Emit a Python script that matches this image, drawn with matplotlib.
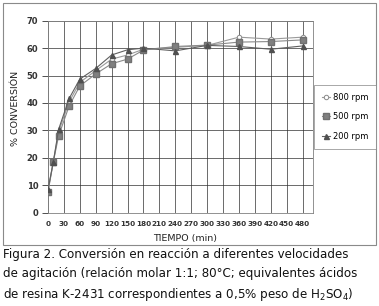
import matplotlib.pyplot as plt
from matplotlib.patches import Rectangle

# Data
tiempo = [0, 10, 20, 40, 60, 90, 120, 150, 180, 240, 300, 360, 420, 480]
rpm800 = [8.0, 18.5, 29.5, 40.5, 47.5, 51.8, 56.0, 57.5, 59.6, 60.3, 61.0, 64.0, 63.3, 64.0]
rpm500 = [7.5, 18.5, 28.0, 39.0, 46.2, 50.6, 54.3, 56.0, 59.3, 60.6, 61.1, 62.2, 62.4, 63.0]
rpm200 = [8.5, 18.5, 30.4, 41.7, 48.7, 52.6, 57.5, 59.4, 60.0, 59.0, 61.0, 60.6, 59.6, 60.8]
x_ticks = list(range(0, 481, 30))
y_ticks = list(range(0, 71, 10))

W, H = 379, 306
fig = plt.figure(figsize=(W / 100, H / 100), dpi=100)
ax = fig.add_axes([48 / W, 1 - 212.7 / H, 264.7 / W, 192 / H])

ax.plot(tiempo, rpm800, color='#9a9a9a', lw=0.8, marker='o', ms=3.2,
        mfc='white', mec='#8a8a8a', mew=0.7, label='800 rpm', zorder=3)
ax.plot(tiempo, rpm500, color='#8a8a8a', lw=0.8, marker='s', ms=4,
        mfc='#808080', mec='#707070', label='500 rpm', zorder=3)
ax.plot(tiempo, rpm200, color='#606060', lw=0.8, marker='^', ms=3.6,
        mfc='#505050', mec='#505050', label='200 rpm', zorder=3)

ax.set_xlim(0, 499)
ax.set_ylim(0, 70)
ax.set_xticks(x_ticks)
ax.set_yticks(y_ticks)
ax.tick_params(axis='x', length=0, labelsize=5.2, pad=6, colors='#333333')
ax.tick_params(axis='y', length=4, width=0.6, labelsize=6.0, pad=3, colors='#333333')
for lab in ax.get_xticklabels() + ax.get_yticklabels():
    lab.set_fontweight('bold')
ax.grid(True, color='#303030', lw=0.5)
for s in ax.spines.values():
    s.set_color('#808080')
    s.set_linewidth(0.6)

fig.text(185 / W, 1 - 238 / H, 'TIEMPO (min)', ha='center', va='center',
         fontsize=6.8, color='#222222')
fig.text(15 / W, 1 - 108 / H, '% CONVERSIÓN', ha='center', va='center',
         rotation=90, fontsize=6.8, color='#222222')

leg = fig.legend(loc='upper left', bbox_to_anchor=(314 / W, 1 - 85 / H), fontsize=6.0,
                 frameon=True, fancybox=False, edgecolor='#808080',
                 handlelength=1.0, handletextpad=0.4, labelspacing=1.3,
                 borderpad=0.9, borderaxespad=0)
leg.get_frame().set_linewidth(0.6)

# outer frame of the chart
fig.patches.append(Rectangle((3 / W, 1 - 245 / H), 373 / W, 242 / H,
                             transform=fig.transFigure, fill=False,
                             edgecolor='#8a8a8a', lw=0.8))

caption = ('Figura 2. Conversión en reacción a diferentes velocidades\n'
           'de agitación (relación molar 1:1; 80°C; equivalentes ácidos\n'
           'de resina K-2431 correspondientes a 0,5% peso de H$_2$SO$_4$)')
fig.text(3 / W, 1 - 248 / H, caption, ha='left', va='top', fontsize=8.6,
         family='DejaVu Sans', linespacing=1.55, color='#111111')

fig.savefig('out.png', dpi=100)
